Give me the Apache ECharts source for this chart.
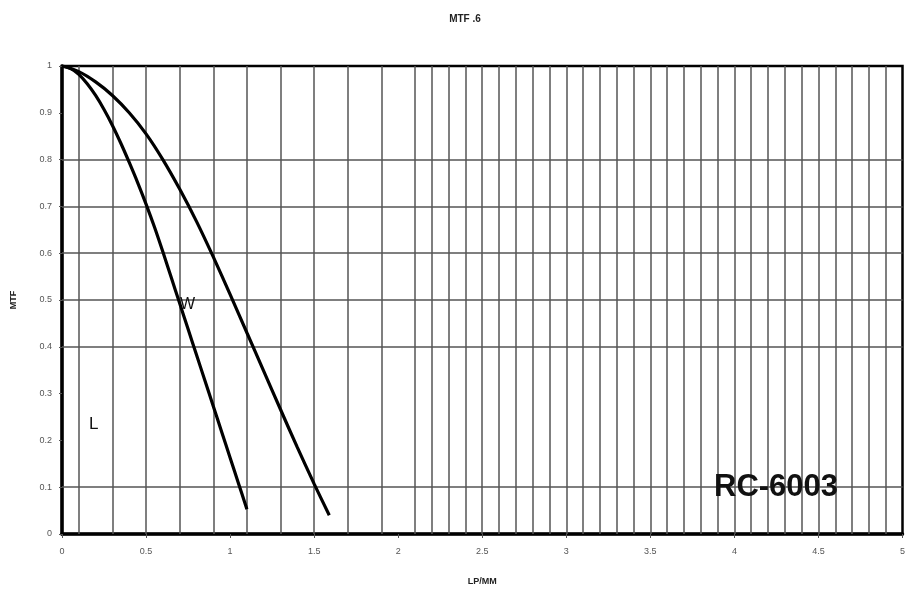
<!DOCTYPE html>
<html><head><meta charset="utf-8">
<script src="https://cdn.jsdelivr.net/npm/echarts@6/dist/echarts.min.js"></script>
<style>html,body{margin:0;padding:0;background:#fff}#c{width:908px;height:591px}</style>
</head><body><div id="c"></div>
<script>
// Curve 1 (steeper)
var curve1X = [0, 0.05, 0.1, 0.15, 0.2, 0.25, 0.3, 0.35, 0.4, 0.45, 0.5, 0.55, 0.6, 0.65, 0.7, 0.75, 0.8, 0.85, 0.9, 0.95, 1.0, 1.05, 1.1];
var curve1Y = [1, 0.995, 0.982, 0.962, 0.937, 0.907, 0.873, 0.835, 0.794, 0.751, 0.705, 0.656, 0.603, 0.548, 0.493, 0.438, 0.383, 0.328, 0.273, 0.218, 0.163, 0.108, 0.053];
// Curve 2 (wider)
var curve2X = [0, 0.1, 0.2, 0.3, 0.4, 0.5, 0.6, 0.7, 0.8, 0.9, 1.0, 1.1, 1.2, 1.3, 1.4, 1.5, 1.59];
var curve2Y = [1, 0.988, 0.966, 0.937, 0.9, 0.855, 0.8, 0.737, 0.668, 0.592, 0.512, 0.43, 0.348, 0.266, 0.185, 0.107, 0.04];
// Grid line positions as drawn on the original sheet
var vGridLines = [0.1, 0.3, 0.5, 0.7, 0.9, 1.1, 1.3, 1.5, 1.7, 1.9, 2.1, 2.2, 2.3, 2.4, 2.5, 2.6, 2.7, 2.8, 2.9, 3.0, 3.1, 3.2, 3.3, 3.4, 3.5, 3.6, 3.7, 3.8, 3.9, 4.0, 4.1, 4.2, 4.3, 4.4, 4.5, 4.6, 4.7, 4.8, 4.9];
var hGridLines = [0.1, 0.4, 0.5, 0.6, 0.7, 0.8];
var titleText = 'MTF .6';
var xName = 'LP/MM';
var yName = 'MTF';

function pairs(xs, ys){ return xs.map(function(x,i){ return [x, ys[i]]; }); }

var chart = echarts.init(document.getElementById('c'), null, {renderer:'canvas'});
var gridLineStyle = {color:'#555', width:1.5, type:'solid'};
chart.setOption({
  animation:false,
  backgroundColor:'#fff',
  title:{text:titleText, left:460, top:9, textAlign:'center',
    textStyle:{fontFamily:'Liberation Sans', fontSize:10, fontWeight:'bold', color:'#222'}},
  grid:{left:62, right:3, top:66, bottom:54, show:true, borderColor:'#000', borderWidth:2.5, backgroundColor:'transparent'},
  xAxis:{type:'value', min:0, max:5, interval:0.5,
    axisLine:{show:true, onZero:false, lineStyle:{color:'#000', width:3.5}},
    axisTick:{show:true, length:4, lineStyle:{color:'#555'}},
    axisLabel:{color:'#555', fontSize:9, fontFamily:'Liberation Sans', margin:13},
    splitLine:{show:false},
    name:xName, nameLocation:'middle', nameGap:43,
    nameTextStyle:{fontFamily:'Liberation Sans', fontSize:9, fontWeight:'bold', color:'#222'}},
  yAxis:{type:'value', min:0, max:1, interval:0.1,
    axisLine:{show:true, onZero:false, lineStyle:{color:'#000', width:3.5}},
    axisTick:{show:true, length:3, lineStyle:{color:'#555'}},
    axisLabel:{color:'#555', fontSize:9, fontFamily:'Liberation Sans', margin:10},
    splitLine:{show:false},
    name:yName, nameLocation:'middle', nameGap:44, nameRotate:90,
    nameTextStyle:{fontFamily:'Liberation Sans', fontSize:9, fontWeight:'bold', color:'#222'}},
  series:[
    {type:'line', name:'grid', data:[], z:1, silent:true,
      markLine:{silent:true, symbol:['none','none'], label:{show:false}, animation:false,
        lineStyle:gridLineStyle,
        data: vGridLines.map(function(v){return {xAxis:v};}).concat(hGridLines.map(function(v){return {yAxis:v};}))}},
    {type:'line', name:'W', data:pairs(curve1X, curve1Y), smooth:0.3, showSymbol:false, z:5,
      lineStyle:{color:'#000', width:3.2}},
    {type:'line', name:'L', data:pairs(curve2X, curve2Y), smooth:0.3, showSymbol:false, z:5,
      lineStyle:{color:'#000', width:3.2}}
  ],
  graphic:[
    {type:'text', left:180, top:297, z:10, style:{text:'W', fontFamily:'Liberation Sans', fontSize:16, fill:'#111'}},
    {type:'text', left:89, top:416, z:10, style:{text:'L', fontFamily:'Liberation Sans', fontSize:17, fill:'#111'}},
    {type:'text', left:714, top:472, z:10, style:{text:'RC-6003', fontFamily:'Liberation Sans', fontSize:31, fontWeight:'bold', fill:'#111'}}
  ]
});
</script></body></html>
